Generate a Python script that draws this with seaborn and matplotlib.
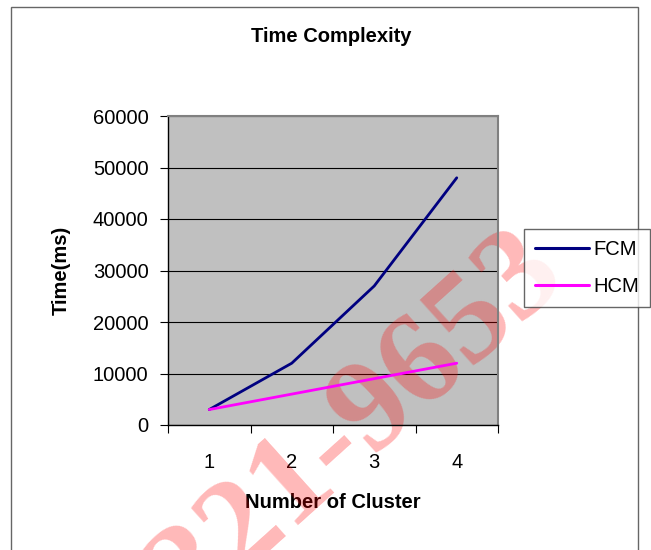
import matplotlib
matplotlib.use("Agg")
import matplotlib.pyplot as plt
import seaborn as sns
import pandas as pd
from matplotlib.patches import Rectangle
from matplotlib.lines import Line2D

clusters = ["1", "2", "3", "4"]
fcm = [3000, 12000, 27000, 48000]
hcm = [3000, 6000, 9000, 12000]
series_names = ["FCM", "HCM"]
y_ticks = [0, 10000, 20000, 30000, 40000, 50000, 60000]

df = pd.DataFrame({
    "Number of Cluster": clusters * 2,
    "Time(ms)": fcm + hcm,
    "series": [series_names[0]] * 4 + [series_names[1]] * 4,
})

sns.set_style("white")
plt.rcParams["font.family"] = ["Liberation Sans", "DejaVu Sans"]
plt.rcParams["text.color"] = "black"
plt.rcParams["axes.labelcolor"] = "black"
plt.rcParams["xtick.color"] = "black"
plt.rcParams["ytick.color"] = "black"

W, H = 651, 550
fig = plt.figure(figsize=(W / 100, H / 100), dpi=100)
ax = fig.add_axes([168 / W, 1 - 425 / H, (498 - 168) / W, (425 - 116) / H])
ax.set_facecolor("#C0C0C0")

sns.lineplot(data=df, x="Number of Cluster", y="Time(ms)", hue="series",
             palette={"FCM": "#000080", "HCM": "#FF00FF"}, linewidth=2.0,
             ax=ax, legend=False, sort=False)

ax.set_ylim(0, 60000)
ax.set_yticks(y_ticks)
ax.set_yticklabels([str(v) for v in y_ticks], fontsize=14.5)
ax.yaxis.grid(True, color="black", linewidth=0.8)
ax.set_axisbelow(True)
ax.set_xlim(-0.5, 3.5)
ax.set_xticks([-0.5, 0.5, 1.5, 2.5, 3.5])
ax.set_xticklabels([])
ax.set_xticks([0, 1, 2, 3], minor=True)
ax.set_xticklabels(clusters, minor=True, fontsize=14.5)
ax.tick_params(axis="x", which="minor", length=0, pad=20)
ax.tick_params(axis="both", which="major", direction="out", length=6, width=0.8,
               color="black", left=True, bottom=True, labelsize=14.5)
ax.tick_params(axis="y", pad=8)

for s in ["left", "bottom"]:
    ax.spines[s].set_color("black")
    ax.spines[s].set_linewidth(1.0)
for s in ["top", "right"]:
    ax.spines[s].set_color("#808080")
    ax.spines[s].set_linewidth(1.5)

ax.set_xlabel("Number of Cluster", fontsize=14.5, fontweight="bold", labelpad=15)
ax.set_ylabel("Time(ms)", fontsize=14.5, fontweight="bold", labelpad=16)
fig.text(331 / W, 1 - 37 / H, "Time Complexity", fontsize=14.5, fontweight="bold",
         ha="center", va="center")

handles = [Line2D([], [], color="#000080", linewidth=2.2),
           Line2D([], [], color="#FF00FF", linewidth=2.2)]
leg = fig.legend(handles, series_names, loc="upper left",
                 bbox_to_anchor=(524 / W, 1 - 229 / H), fontsize=14.5,
                 frameon=True, fancybox=False, handlelength=2.7,
                 labelspacing=0.9, borderpad=0.55, handletextpad=0.2,
                 borderaxespad=0)
leg.get_frame().set_edgecolor("#404040")
leg.get_frame().set_linewidth(1.0)

# outer chart border
fig.patches.append(Rectangle((11 / W, -0.05), (638 - 11) / W, 1 - 7 / H + 0.05,
                             transform=fig.transFigure, fill=False,
                             edgecolor="#666666", linewidth=1.0))

# watermark (behind data lines, over plot fill)
ax.text(334 / W, 1 - 446 / H, "2321-9653", transform=fig.transFigure,
        fontsize=95, color="red", alpha=0.28, rotation=42,
        rotation_mode="anchor", ha="center", va="center",
        family=["Liberation Serif"], fontweight="bold", zorder=0.7,
        clip_on=False)

fig.savefig("out.png", dpi=100)
